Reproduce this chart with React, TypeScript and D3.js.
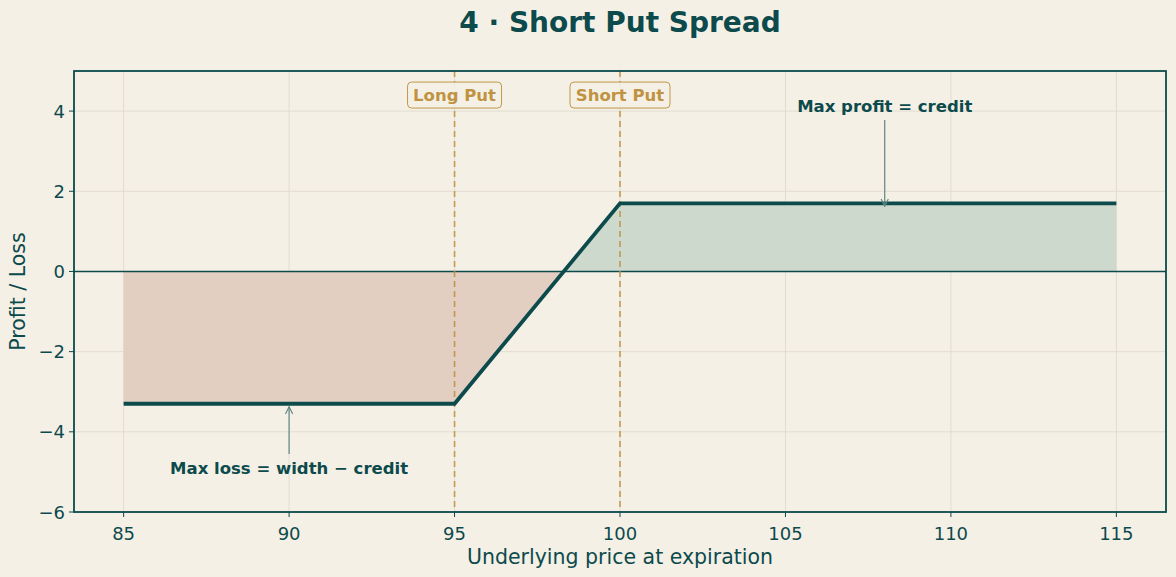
import React from "react";
import * as d3 from "d3";

const prices = [85, 95, 100, 115];
const payoff = [-3.3, -3.3, 1.7, 1.7];
const strikes = [95, 100];
const strikeLabels = ["Long Put", "Short Put"];
const xTicks = [85, 90, 95, 100, 105, 110, 115];
const yTicks = [-6, -4, -2, 0, 2, 4];

const W = 1176, H = 577;
const L = 74, R = 1166, T = 71, B = 512;
const TEAL = "#0c4a4c";
const GOLD = "#bf9341";
const BG = "#f5f0e6";

export default function App() {
  const x = d3.scaleLinear().domain([83.5, 116.5]).range([L, R]);
  const y = d3.scaleLinear().domain([-6, 5]).range([B, T]);
  const pts = prices.map((p, i) => [p, payoff[i]] as [number, number]);
  const line = d3.line<[number, number]>().x(d => x(d[0])).y(d => y(d[1]));
  const area = d3.area<[number, number]>().x(d => x(d[0])).y0(y(0)).y1(d => y(d[1]));
  const font = "'DejaVu Sans', sans-serif";
  return (
    <svg width={W} height={H} style={{ position: "absolute", left: 0, top: 0, background: BG, fontFamily: font }}>
      <defs>
        <clipPath id="pos"><rect x={L} y={T} width={R - L} height={y(0) - T} /></clipPath>
        <clipPath id="neg"><rect x={L} y={y(0)} width={R - L} height={B - y(0)} /></clipPath>
        <marker id="arr" viewBox="0 0 10 10" refX="9" refY="5" markerWidth="9" markerHeight="9" orient="auto" markerUnits="userSpaceOnUse">
          <path d="M1,1 L9,5 L1,9" fill="none" stroke="#5f8583" strokeWidth={1.3} />
        </marker>
      </defs>
      <rect width={W} height={H} fill={BG} />
      <text x={(L + R) / 2} y={32} textAnchor="middle" fontSize={28} fontWeight="bold" fill={TEAL}>4 · Short Put Spread</text>
      {xTicks.map(t => (
        <line key={"gx" + t} x1={x(t)} x2={x(t)} y1={T} y2={B} stroke="#ddd8cb" strokeWidth={0.8} />
      ))}
      {yTicks.map(t => (
        <line key={"gy" + t} x1={L} x2={R} y1={y(t)} y2={y(t)} stroke="#ddd8cb" strokeWidth={0.8} />
      ))}
      <path d={area(pts) || ""} fill="#e3cec2" clipPath="url(#neg)" />
      <path d={area(pts) || ""} fill="#cdd9cc" clipPath="url(#pos)" />
      <line x1={L} x2={R} y1={y(0)} y2={y(0)} stroke={TEAL} strokeWidth={1.5} />
      {strikes.map((s, i) => (
        <g key={"s" + s}>
          <line x1={x(s)} x2={x(s)} y1={T} y2={B} stroke={GOLD} strokeWidth={1.6} strokeDasharray="6,4" opacity={0.9} />
          <rect x={x(s) - (i === 0 ? 47 : 50)} y={y(4.4) - 13} width={i === 0 ? 94 : 100} height={26} rx={4} fill={BG} stroke={GOLD} strokeWidth={1} opacity={0.95} />
          <text x={x(s)} y={y(4.4) + 6} textAnchor="middle" fontSize={16.5} fontWeight="bold" fill={GOLD}>{strikeLabels[i]}</text>
        </g>
      ))}
      <path d={line(pts) || ""} fill="none" stroke={TEAL} strokeWidth={3.8} />
      <line x1={x(108)} x2={x(108)} y1={y(4.0) + 9} y2={y(1.7) + 3} stroke="#5f8583" strokeWidth={1.2} markerEnd="url(#arr)" />
      <text x={x(108)} y={y(4.0) + 1} textAnchor="middle" fontSize={16.5} fontWeight="bold" fill={TEAL}>Max profit = credit</text>
      <line x1={x(90)} x2={x(90)} y1={y(-4.9) - 14} y2={y(-3.3) + 3} stroke="#5f8583" strokeWidth={1.2} markerEnd="url(#arr)" />
      <text x={x(90)} y={y(-4.9) + 6} textAnchor="middle" fontSize={16.5} fontWeight="bold" fill={TEAL}>Max loss = width − credit</text>
      <rect x={L} y={T} width={R - L} height={B - T} fill="none" stroke={TEAL} strokeWidth={1.8} />
      {xTicks.map(t => (
        <g key={"xt" + t}>
          <line x1={x(t)} x2={x(t)} y1={B} y2={B + 5} stroke={TEAL} strokeWidth={1} />
          <text x={x(t)} y={B + 28} textAnchor="middle" fontSize={18} fill={TEAL}>{t}</text>
        </g>
      ))}
      {yTicks.map(t => (
        <g key={"yt" + t}>
          <line x1={L - 5} x2={L} y1={y(t)} y2={y(t)} stroke={TEAL} strokeWidth={1} />
          <text x={L - 9} y={y(t) + 6.5} textAnchor="end" fontSize={18} fill={TEAL}>{t < 0 ? "−" + Math.abs(t) : String(t)}</text>
        </g>
      ))}
      <text x={(L + R) / 2} y={564} textAnchor="middle" fontSize={20.5} fill={TEAL}>Underlying price at expiration</text>
      <text transform={`translate(25,${(T + B) / 2}) rotate(-90)`} textAnchor="middle" fontSize={20.5} fill={TEAL}>Profit / Loss</text>
    </svg>
  );
}
